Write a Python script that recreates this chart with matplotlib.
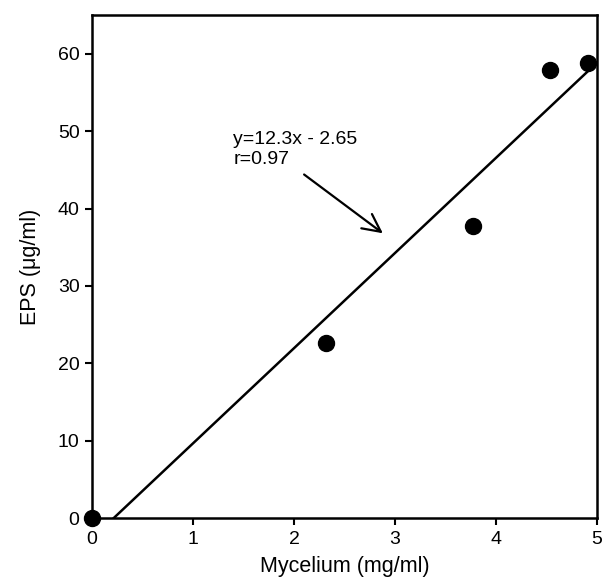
import matplotlib.pyplot as plt
import numpy as np

plt.rcParams['font.family'] = ['Liberation Sans', 'DejaVu Sans']

# data
mycelium = [0, 2.32, 3.77, 4.53, 4.91]
eps = [0, 22.6, 37.8, 57.9, 58.8]

# regression line y = 12.3x - 2.65
slope = 12.3
intercept = -2.65
fit_x = np.array([-intercept / slope, 5.0])
fit_y = slope * fit_x + intercept

fig = plt.figure(figsize=(6.03, 5.81), dpi=100)
ax = fig.add_axes([0.1526, 0.1084, 0.8374, 0.8656])

ax.plot(fit_x, fit_y, color='black', linewidth=1.8, zorder=2)
ax.plot(mycelium, eps, linestyle='none', marker='o', markersize=11.5,
        color='black', clip_on=False, zorder=5)

ax.text(1.40, 47.6, 'y=12.3x - 2.65\nr=0.97', fontsize=14, ha='left',
        va='center', linespacing=1.25)
ax.annotate('', xy=(2.88, 36.8), xytext=(2.10, 44.4),
            arrowprops=dict(arrowstyle='->', color='black', lw=1.6,
                            mutation_scale=32, shrinkA=0, shrinkB=0))

ax.set_xlim(0, 5)
ax.set_ylim(0, 65)
ax.set_xticks(range(0, 6))
ax.set_yticks(range(0, 61, 10))
ax.tick_params(direction='out', length=5, width=1.5, labelsize=14, pad=4,
               top=False, right=False)
for s in ax.spines.values():
    s.set_linewidth(1.8)

ax.set_xlabel('Mycelium (mg/ml)', fontsize=15.5, labelpad=6)
ax.set_ylabel('EPS (μg/ml)', fontsize=15.5, labelpad=12)

fig.savefig('out.png', dpi=100)
